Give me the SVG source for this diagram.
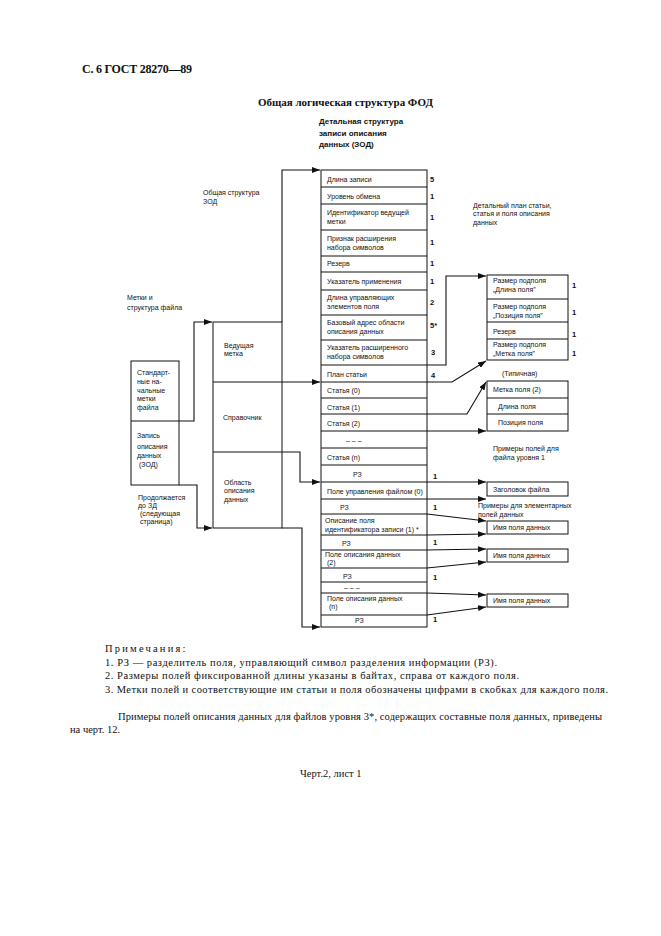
<svg xmlns="http://www.w3.org/2000/svg" width="661" height="936" viewBox="0 0 661 936">
<style>
text{fill:#111}
.t{font-family:"Liberation Sans",Arial,sans-serif;font-size:7px}
.n{font-family:"Liberation Sans",Arial,sans-serif;font-size:7.5px;font-weight:bold}
.b{font-family:"Liberation Sans",Arial,sans-serif;font-size:8px;font-weight:bold}
.s{font-family:"Liberation Serif","Times New Roman",serif;font-size:10.5px}
.h{font-family:"Liberation Serif","Times New Roman",serif;font-weight:bold}
.box{fill:none;stroke:#111;stroke-width:1}
.ln{fill:none;stroke:#111;stroke-width:1}
.c{fill:none;stroke:#111;stroke-width:1.1;marker-end:url(#ar)}
</style>
<defs>
<marker id="ar" markerUnits="userSpaceOnUse" markerWidth="9" markerHeight="6" refX="8" refY="3" orient="auto">
<path d="M0,0 L8,3 L0,6 z" fill="#111"/>
</marker>
</defs>
<rect width="661" height="936" fill="#fff"/>

<g id="header">
<text class="h" x="82" y="73" font-size="12" textLength="110">С. 6 ГОСТ 28270—89</text>
<text class="h" x="258" y="106" font-size="11" textLength="175">Общая логическая структура ФОД</text>
<text class="b" x="319" y="124">Детальная структура</text>
<text class="b" x="319" y="136">записи описания</text>
<text class="b" x="319" y="147">данных (ЗОД)</text>
</g>

<g id="labels">
<text class="t" x="203" y="195">Общая структура</text>
<text class="t" x="203" y="204">ЗОД</text>
<text class="t" x="127" y="300">Метки и</text>
<text class="t" x="127" y="310">структура файла</text>
<text class="t" x="473" y="208">Детальный план статьи,</text>
<text class="t" x="473" y="216">статья и поля описания</text>
<text class="t" x="473" y="225">данных</text>
<text class="t" x="502" y="376">(Типичная)</text>
<text class="t" x="493" y="451">Примеры полей для</text>
<text class="t" x="493" y="460">файла уровня 1</text>
<text class="t" x="478" y="508">Примеры для элементарных</text>
<text class="t" x="478" y="517">полей данных</text>
<text class="t" x="138" y="500">Продолжается</text>
<text class="t" x="138" y="508">до ЗД</text>
<text class="t" x="140" y="516">(следующая</text>
<text class="t" x="140" y="524">страница)</text>
</g>

<g id="file-structure">
<rect class="box" x="131" y="361" width="48" height="124"/>
<line class="ln" x1="131" y1="421" x2="179" y2="421"/>
<text class="t" x="137" y="375">Стандарт-</text>
<text class="t" x="137" y="384">ные на-</text>
<text class="t" x="137" y="393">чальные</text>
<text class="t" x="137" y="401">метки</text>
<text class="t" x="137" y="410">файла</text>
<text class="t" x="137" y="438">Запись</text>
<text class="t" x="137" y="449">описания</text>
<text class="t" x="137" y="458">данных</text>
<text class="t" x="139" y="467">(ЗОД)</text>
</g>

<g id="zod-structure">
<rect class="box" x="213" y="322" width="69" height="206"/>
<line class="ln" x1="213" y1="382" x2="282" y2="382"/>
<line class="ln" x1="213" y1="452" x2="282" y2="452"/>
<text class="t" x="224" y="348">Ведущая</text>
<text class="t" x="224" y="356">метка</text>
<text class="t" x="223" y="420">Справочник</text>
<text class="t" x="224" y="485">Область</text>
<text class="t" x="224" y="493">описания</text>
<text class="t" x="224" y="502">данных</text>
</g>

<g id="zod-detail">
<rect class="box" x="321" y="170" width="106" height="457"/>
<path class="ln" d="M321,187H427M321,204H427M321,230H427M321,256H427M321,272H427M321,290H427M321,315H427M321,340H427M321,365H427M321,382H427M321,398H427M321,414H427M321,431H427M321,448H427M321,465H427M321,482H427M321,499H427M321,514H427M321,535H427M321,550H427M321,568H427M321,582H427M321,593H427M321,615H427"/>
<text class="t" x="327" y="182">Длина записи</text>
<text class="t" x="327" y="199">Уровень обмена</text>
<text class="t" x="327" y="215">Идентификатор ведущей</text>
<text class="t" x="327" y="224">метки</text>
<text class="t" x="327" y="241">Признак расширения</text>
<text class="t" x="327" y="250">набора символов</text>
<text class="t" x="327" y="266">Резерв</text>
<text class="t" x="327" y="284">Указатель применения</text>
<text class="t" x="327" y="300">Длина управляющих</text>
<text class="t" x="327" y="309">элементов поля</text>
<text class="t" x="327" y="325">Базовый адрес области</text>
<text class="t" x="327" y="334">описания данных</text>
<text class="t" x="327" y="350">Указатель расширенного</text>
<text class="t" x="327" y="359">набора символов</text>
<text class="t" x="327" y="377">План статьи</text>
<text class="t" x="327" y="393">Статья  (0)</text>
<text class="t" x="327" y="410">Статья  (1)</text>
<text class="t" x="327" y="426">Статья  (2)</text>
<text class="t" x="346" y="443">– – –</text>
<text class="t" x="327" y="460">Статья  (n)</text>
<text class="t" x="353" y="477">РЗ</text>
<text class="t" x="327" y="494">Поле управления файлом  (0)</text>
<text class="t" x="340" y="510">РЗ</text>
<text class="t" x="325" y="523">Описание поля</text>
<text class="t" x="325" y="532">идентификатора записи  (1) *</text>
<text class="t" x="342" y="546">РЗ</text>
<text class="t" x="325" y="557">Поле описания данных</text>
<text class="t" x="327" y="565">(2)</text>
<text class="t" x="343" y="579">РЗ</text>
<text class="t" x="344" y="590">– – –</text>
<text class="t" x="327" y="601">Поле описания данных</text>
<text class="t" x="329" y="609">(n)</text>
<text class="t" x="355" y="623">РЗ</text>
</g>

<g id="sizes">
<text class="n" x="430" y="182">5</text>
<text class="n" x="430" y="199">1</text>
<text class="n" x="430" y="220">1</text>
<text class="n" x="430" y="245">1</text>
<text class="n" x="430" y="266">1</text>
<text class="n" x="430" y="284">1</text>
<text class="n" x="430" y="305">2</text>
<text class="n" x="430" y="328">5*</text>
<text class="n" x="431" y="355">3</text>
<text class="n" x="431" y="378">4</text>
<text class="n" x="433" y="479">1</text>
<text class="n" x="433" y="510">1</text>
<text class="n" x="433" y="545">1</text>
<text class="n" x="433" y="580" font-size="9">1</text>
<text class="n" x="433" y="622">1</text>
</g>

<g id="entry-map">
<rect class="box" x="487" y="275" width="81" height="85"/>
<path class="ln" d="M487,299H568M487,322H568M487,339H568"/>
<text class="t" x="493" y="283">Размер подполя</text>
<text class="t" x="493" y="292">„Длина поля”</text>
<text class="t" x="493" y="309">Размер подполя</text>
<text class="t" x="493" y="318">„Позиция поля”</text>
<text class="t" x="493" y="334">Резерв</text>
<text class="t" x="493" y="347">Размер подполя</text>
<text class="t" x="493" y="356">„Метка поля”</text>
<text class="n" x="572" y="288">1</text>
<text class="n" x="572" y="315">1</text>
<text class="n" x="572" y="337">1</text>
<text class="n" x="572" y="356">1</text>
</g>

<g id="entry-typical">
<rect class="box" x="487" y="381" width="81" height="50"/>
<path class="ln" d="M487,398H568M487,414H568"/>
<text class="t" x="493" y="392">Метка поля  (2)</text>
<text class="t" x="498" y="409">Длина поля</text>
<text class="t" x="498" y="425">Позиция поля</text>
</g>

<g id="file-title">
<rect class="box" x="487" y="482" width="81" height="14"/>
<text class="t" x="493" y="492">Заголовок файла</text>
</g>

<g id="field-name-1">
<rect class="box" x="487" y="521" width="81" height="13"/>
<text class="t" x="493" y="530">Имя поля данных</text>
</g>
<g id="field-name-2">
<rect class="box" x="487" y="549" width="81" height="13"/>
<text class="t" x="493" y="558">Имя поля данных</text>
</g>
<g id="field-name-3">
<rect class="box" x="487" y="594" width="81" height="13"/>
<text class="t" x="493" y="603">Имя поля данных</text>
</g>

<g id="connectors">
<path class="c" d="M179,421H194V322H212"/>
<path class="c" d="M179,485H197V528H212"/>
<path class="c" d="M282,322V170H320"/>
<path class="c" d="M282,382H320"/>
<path class="c" d="M282,452H300V482H320"/>
<path class="c" d="M282,528H302V627H320"/>
<path class="c" d="M427,365H446V276H486"/>
<path class="c" d="M427,382H452L486,361"/>
<path class="c" d="M427,414H467L486,382"/>
<path class="c" d="M427,431H486"/>
<path class="c" d="M427,482H486"/>
<path class="c" d="M427,499H486"/>
<path class="c" d="M427,514L486,521"/>
<path class="c" d="M427,535L486,534"/>
<path class="c" d="M427,550L486,549"/>
<path class="c" d="M427,568L486,562"/>
<path class="c" d="M427,593L486,595"/>
<path class="c" d="M427,615L486,607"/>
</g>

<g id="notes">
<text class="s" x="105" y="652" letter-spacing="2.2">Примечания:</text>
<text class="s" x="105" y="666" textLength="392">1.  РЗ — разделитель поля, управляющий символ разделения информации (РЗ).</text>
<text class="s" x="105" y="679" textLength="414">2.  Размеры полей фиксированной длины указаны в байтах, справа от каждого поля.</text>
<text class="s" x="105" y="693" textLength="503">3.  Метки полей и соответствующие им статьи  и поля обозначены цифрами в скобках для каждого поля.</text>
<text class="s" x="118" y="720" textLength="484">Примеры полей описания данных для файлов уровня 3*, содержащих составные поля данных, приведены</text>
<text class="s" x="70" y="733">на черт. 12.</text>
<text class="s" x="300" y="777">Черт.2,  лист 1</text>
</g>
</svg>
